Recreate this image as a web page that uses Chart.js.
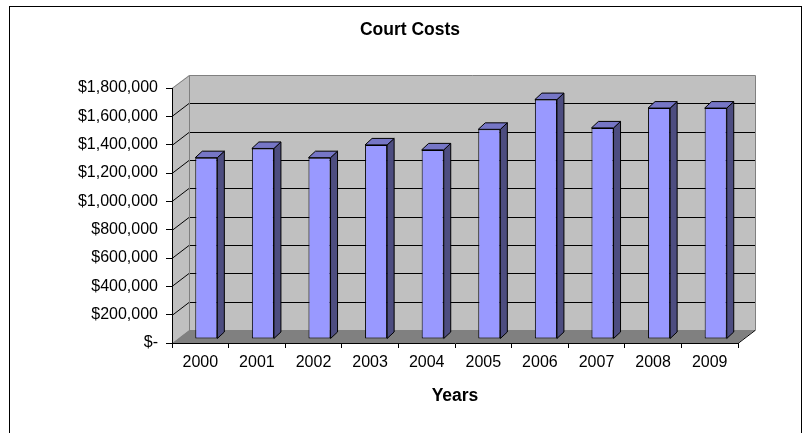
<!DOCTYPE html>
<html>
<head>
<meta charset="utf-8">
<script src="https://cdn.jsdelivr.net/npm/chart.js@4/dist/chart.umd.min.js"></script>
<style>
  html, body { margin: 0; padding: 0; background: #fff; }
  #wrap { width: 811px; height: 433px; }
</style>
</head>
<body>
<div id="wrap"><canvas id="court-costs-chart" width="811" height="433"></canvas></div>
<script>
const years = ["2000", "2001", "2002", "2003", "2004", "2005", "2006", "2007", "2008", "2009"];
const courtCosts = [1280000, 1345000, 1280000, 1370000, 1335000, 1480000, 1690000, 1490000, 1630000, 1630000];
const chartTitle = "Court Costs";
const xAxisTitle = "Years";

const FONT = "'Liberation Sans', Arial, sans-serif";
const WALL_DX = 17;   // depth of the back wall
const WALL_DY = -13;
const BAR_DX = 6;     // bars sit a third of the way back
const BAR_DY = -4;
const BAR_DEPTH_X = 7;
const BAR_DEPTH_Y = -6.5;

function formatDollars(v) {
  if (v === 0) return "$-";
  return "$" + v.toLocaleString("en-US");
}

// white page, outer frame, walls, floor and gridlines behind everything
const backdropPlugin = {
  id: "backdrop",
  beforeDraw(chart) {
    const ctx = chart.ctx;
    const area = chart.chartArea;
    const y = chart.scales.y;

    ctx.save();
    ctx.fillStyle = "#ffffff";
    ctx.fillRect(0, 0, chart.width, chart.height);

    ctx.strokeStyle = "#000";
    ctx.lineWidth = 1;
    ctx.strokeRect(9.5, 6.5, 792, 500);

    const l = area.left, r = area.right, t = area.top, b = area.bottom;

    // side wall
    ctx.fillStyle = "#c0c0c0";
    ctx.beginPath();
    ctx.moveTo(l, t);
    ctx.lineTo(l + WALL_DX, t + WALL_DY);
    ctx.lineTo(l + WALL_DX, b + WALL_DY);
    ctx.lineTo(l, b);
    ctx.closePath();
    ctx.fill();

    // back wall
    ctx.fillRect(l + WALL_DX, t + WALL_DY, r - l, b - t);

    // floor
    ctx.fillStyle = "#808080";
    ctx.beginPath();
    ctx.moveTo(l, b);
    ctx.lineTo(l + WALL_DX, b + WALL_DY);
    ctx.lineTo(r + WALL_DX, b + WALL_DY);
    ctx.lineTo(r, b);
    ctx.closePath();
    ctx.fill();

    // gridlines on back and side walls
    ctx.strokeStyle = "#000";
    y.ticks.forEach((tick) => {
      const py = Math.round(y.getPixelForValue(tick.value)) + 0.5;
      if (tick.value === 0 || tick.value === y.max) return;
      ctx.beginPath();
      ctx.moveTo(l, py);
      ctx.lineTo(l + WALL_DX, py + WALL_DY);
      ctx.lineTo(r + WALL_DX, py + WALL_DY);
      ctx.stroke();
    });

    // wall outlines
    ctx.strokeStyle = "#808080";
    ctx.beginPath();
    ctx.moveTo(l, t + 0.5);
    ctx.lineTo(l + WALL_DX + 0.5, t + WALL_DY + 0.5);
    ctx.lineTo(r + WALL_DX + 0.5, t + WALL_DY + 0.5);
    ctx.lineTo(r + WALL_DX + 0.5, b + WALL_DY + 0.5);
    ctx.moveTo(l + WALL_DX + 0.5, t + WALL_DY + 0.5);
    ctx.lineTo(l + WALL_DX + 0.5, b + WALL_DY + 0.5);
    ctx.lineTo(r + WALL_DX + 0.5, b + WALL_DY + 0.5);
    ctx.stroke();

    ctx.strokeStyle = "#000";
    ctx.beginPath();
    ctx.moveTo(r, b + 0.5);
    ctx.lineTo(r + WALL_DX, b + WALL_DY + 0.5);
    ctx.stroke();

    // chart title
    ctx.fillStyle = "#000";
    ctx.font = "bold 17.5px " + FONT;
    ctx.textAlign = "center";
    ctx.textBaseline = "middle";
    ctx.fillText(chartTitle, 410, 30);
    ctx.restore();
  },
};

// shift bars back into the box and give them sides and tops
const bars3dPlugin = {
  id: "bars3d",
  beforeDatasetsDraw(chart) {
    chart.ctx.save();
    chart.ctx.translate(BAR_DX, BAR_DY);
  },
  afterDatasetsDraw(chart) {
    const ctx = chart.ctx;
    const meta = chart.getDatasetMeta(0);
    ctx.lineWidth = 1;
    ctx.strokeStyle = "#000";
    meta.data.forEach((bar) => {
      const left = bar.x - bar.width / 2;
      const right = bar.x + bar.width / 2;
      const top = bar.y;
      const base = bar.base;

      ctx.fillStyle = "#4d4d80";
      ctx.beginPath();
      ctx.moveTo(right, top);
      ctx.lineTo(right + BAR_DEPTH_X, top + BAR_DEPTH_Y);
      ctx.lineTo(right + BAR_DEPTH_X, base + BAR_DEPTH_Y);
      ctx.lineTo(right, base);
      ctx.closePath();
      ctx.fill();
      ctx.stroke();

      ctx.fillStyle = "#7676c6";
      ctx.beginPath();
      ctx.moveTo(left, top);
      ctx.lineTo(left + BAR_DEPTH_X, top + BAR_DEPTH_Y);
      ctx.lineTo(right + BAR_DEPTH_X, top + BAR_DEPTH_Y);
      ctx.lineTo(right, top);
      ctx.closePath();
      ctx.fill();
      ctx.stroke();
    });
    ctx.restore();
  },
};

const ctx = document.getElementById("court-costs-chart").getContext("2d");
new Chart(ctx, {
  type: "bar",
  data: {
    labels: years,
    datasets: [
      {
        label: "Court Costs",
        data: courtCosts,
        backgroundColor: "#9999ff",
        borderColor: "#000",
        borderWidth: 1,
        borderSkipped: false,
        barPercentage: 0.39,
        categoryPercentage: 1,
      },
    ],
  },
  options: {
    responsive: false,
    animation: false,
    layout: {
      padding: { top: 88, left: 0, right: 73, bottom: 20 },
    },
    plugins: {
      legend: { display: false },
      title: { display: false },
      tooltip: { enabled: false },
    },
    scales: {
      x: {
        afterFit: (scale) => {
          scale.height = 70;
        },
        grid: {
          drawOnChartArea: false,
          color: "#000",
          tickLength: 5,
        },
        border: { color: "#000" },
        ticks: {
          color: "#000",
          padding: 5,
          font: { family: FONT, size: 16 },
        },
        title: {
          display: true,
          text: xAxisTitle,
          color: "#000",
          padding: { top: 0, bottom: 6.5 },
          font: { family: FONT, size: 17.5, weight: "bold" },
        },
      },
      y: {
        min: 0,
        max: 1800000,
        afterFit: (scale) => {
          scale.width = 172;
        },
        grid: {
          drawOnChartArea: false,
          color: "#000",
          tickLength: 6,
        },
        border: { color: "#000" },
        ticks: {
          stepSize: 200000,
          color: "#000",
          padding: 8,
          font: { family: FONT, size: 16 },
          callback: (value) => formatDollars(value),
        },
      },
    },
  },
  plugins: [backdropPlugin, bars3dPlugin],
});
</script>
</body>
</html>
